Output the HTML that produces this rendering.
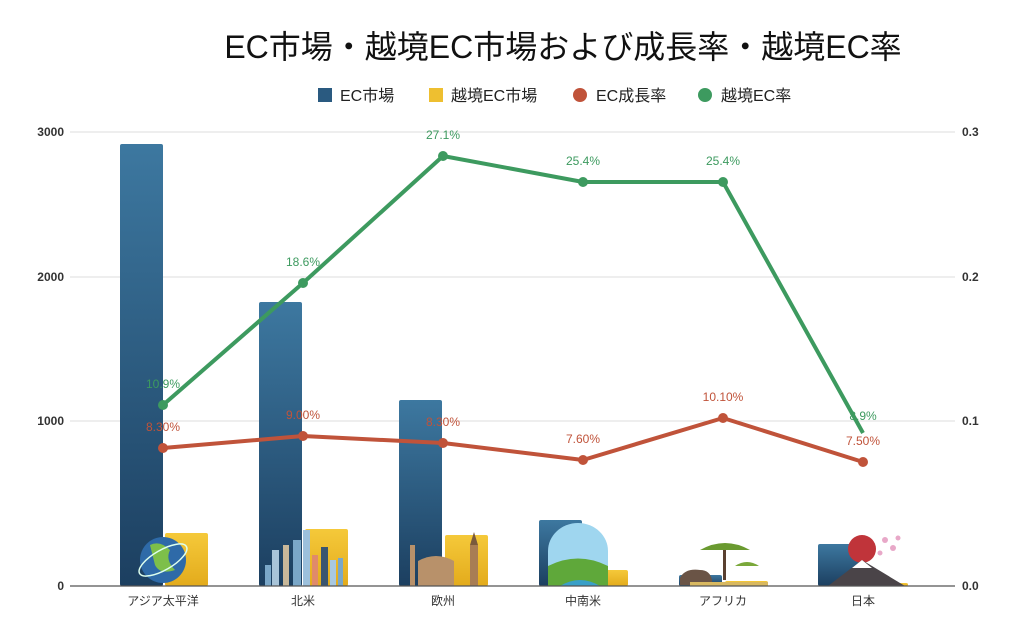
<!DOCTYPE html>
<html><head><meta charset="utf-8"><style>
html,body{margin:0;padding:0;background:#fff;}
svg{display:block;font-family:"Liberation Sans","Noto Sans CJK JP",sans-serif;}
</style></head><body>
<svg width="1024" height="639" viewBox="0 0 1024 639">
<defs>
<linearGradient id="bl" x1="0" y1="0" x2="0" y2="1"><stop offset="0" stop-color="#3d78a0"/><stop offset="1" stop-color="#1c3f60"/></linearGradient>
<linearGradient id="yl" x1="0" y1="0" x2="0" y2="1"><stop offset="0" stop-color="#f5c93a"/><stop offset="1" stop-color="#e3ab1c"/></linearGradient>
</defs>
<rect width="1024" height="639" fill="#fff"/>
<text x="563" y="58" font-size="32" text-anchor="middle" fill="#111">EC市場・越境EC市場および成長率・越境EC率</text>
<g font-size="16" fill="#222">
<rect x="318" y="88" width="14" height="14" fill="#2a5a80"/><text x="340" y="101">EC市場</text>
<rect x="429" y="88" width="14" height="14" fill="#eebf30"/><text x="451" y="101">越境EC市場</text>
<circle cx="580" cy="95" r="7" fill="#c0533a"/><text x="596" y="101">EC成長率</text>
<circle cx="705" cy="95" r="7" fill="#3d9a5f"/><text x="721" y="101">越境EC率</text>
</g>
<g stroke="#ddd" stroke-width="1">
<line x1="70" y1="132" x2="955" y2="132"/><line x1="70" y1="277" x2="955" y2="277"/><line x1="70" y1="421" x2="955" y2="421"/>
</g>
<g font-size="12" fill="#333" font-weight="bold">
<text x="64" y="136" text-anchor="end">3000</text><text x="64" y="281" text-anchor="end">2000</text><text x="64" y="425" text-anchor="end">1000</text><text x="64" y="590" text-anchor="end">0</text>
<text x="962" y="136">0.3</text><text x="962" y="281">0.2</text><text x="962" y="425">0.1</text><text x="962" y="590">0.0</text>
</g>
<g fill="url(#bl)">
<rect x="120" y="144" width="43" height="442" rx="2"/>
<rect x="259" y="302" width="43" height="284" rx="2"/>
<rect x="399" y="400" width="43" height="186" rx="2"/>
<rect x="539" y="520" width="43" height="66" rx="2"/>
<rect x="679" y="575" width="43" height="11" rx="2"/>
<rect x="818" y="544" width="43" height="42" rx="2"/>
</g>
<g fill="url(#yl)">
<rect x="165" y="533" width="43" height="53" rx="2"/>
<rect x="305" y="529" width="43" height="57" rx="2"/>
<rect x="445" y="535" width="43" height="51" rx="2"/>
<rect x="585" y="570" width="43" height="16" rx="2"/>
<rect x="725" y="581" width="43" height="5" rx="2"/>
<rect x="865" y="583" width="43" height="3" rx="2"/>
</g>
<circle cx="163" cy="560" r="23" fill="#2e6aa8"/><path d="M150 545 q10 -5 20 5 q-5 10 5 20 q-15 5 -20 -5 z" fill="#7dbf4a"/>
<ellipse cx="163" cy="560" rx="27" ry="10" fill="none" stroke="#dfe" stroke-width="1.5" transform="rotate(-30 163 560)"/>
<g fill="#7aa7c8"><rect x="265" y="565" width="6" height="21"/><rect x="272" y="550" width="7" height="36" fill="#a8c4d8"/><rect x="283" y="545" width="6" height="41" fill="#c8b89a"/><rect x="293" y="540" width="8" height="46"/><rect x="303" y="530" width="7" height="56" fill="#9cc0dc"/><rect x="312" y="555" width="6" height="31" fill="#e08a6a"/><rect x="321" y="547" width="7" height="39" fill="#3a5570"/><rect x="330" y="560" width="6" height="26" fill="#a8c8e0"/><rect x="338" y="558" width="5" height="28"/></g>
<g fill="#b8916a"><rect x="410" y="545" width="5" height="41"/><path d="M418 586 v-25 q18 -10 36 0 v25 z"/><rect x="470" y="545" width="8" height="41" fill="#a87d54"/><polygon points="470,545 474,532 478,545" fill="#7a5a3c"/></g>
<path d="M548 586 v-35 a30 28 0 0 1 60 0 v35 z" fill="#9fd6ef"/><path d="M548 586 v-20 q30 -15 60 0 v20 z" fill="#5fa83a"/><path d="M560 586 q20 -12 40 0 z" fill="#3aa0c8"/>
<path d="M680 578 q5 -10 20 -8 q10 0 12 10 v5 h-32 z" fill="#6a5446"/><path d="M700 550 q25 -14 50 0 z" fill="#6a9a30"/><rect x="723" y="550" width="3" height="30" fill="#5a4030"/><path d="M735 566 q12 -8 24 0 z" fill="#7aa83a"/><rect x="690" y="582" width="78" height="4" fill="#d8b860"/>
<circle cx="862" cy="549" r="14" fill="#c0343a"/><polygon points="828,586 862,560 905,586" fill="#4a4448"/><polygon points="852,568 862,560 872,568" fill="#fff"/>
<g fill="#e8a8c8"><circle cx="885" cy="540" r="3"/><circle cx="893" cy="548" r="3"/><circle cx="880" cy="553" r="2.5"/><circle cx="898" cy="538" r="2.5"/></g>
<line x1="70" y1="586" x2="955" y2="586" stroke="#555" stroke-width="1.2"/>
<g font-size="12" fill="#333" text-anchor="middle">
<text x="163" y="605">アジア太平洋</text><text x="303" y="605">北米</text><text x="443" y="605">欧州</text><text x="583" y="605">中南米</text><text x="723" y="605">アフリカ</text><text x="863" y="605">日本</text>
</g>
<polyline points="163,448 303,436 443,443 583,460 723,418 863,462" fill="none" stroke="#c0533a" stroke-width="4" stroke-linejoin="round"/>
<g fill="#c0533a"><circle cx="163" cy="448" r="5"/><circle cx="303" cy="436" r="5"/><circle cx="443" cy="443" r="5"/><circle cx="583" cy="460" r="5"/><circle cx="723" cy="418" r="5"/><circle cx="863" cy="462" r="5"/></g>
<polyline points="163,405 303,283 443,156 583,182 723,182 863,433" fill="none" stroke="#3d9a5f" stroke-width="4" stroke-linejoin="round"/>
<g fill="#3d9a5f"><circle cx="163" cy="405" r="5"/><circle cx="303" cy="283" r="5"/><circle cx="443" cy="156" r="5"/><circle cx="583" cy="182" r="5"/><circle cx="723" cy="182" r="5"/></g>
<g font-size="12" text-anchor="middle" fill="#c0533a">
<text x="163" y="431">8.30%</text><text x="303" y="419">9.00%</text><text x="443" y="426">8.30%</text><text x="583" y="443">7.60%</text><text x="723" y="401">10.10%</text><text x="863" y="445">7.50%</text>
</g>
<g font-size="12" text-anchor="middle" fill="#3d9a5f">
<text x="163" y="388">10.9%</text><text x="303" y="266">18.6%</text><text x="443" y="139">27.1%</text><text x="583" y="165">25.4%</text><text x="723" y="165">25.4%</text><text x="863" y="420">8.9%</text>
</g>
</svg>
</body></html>
